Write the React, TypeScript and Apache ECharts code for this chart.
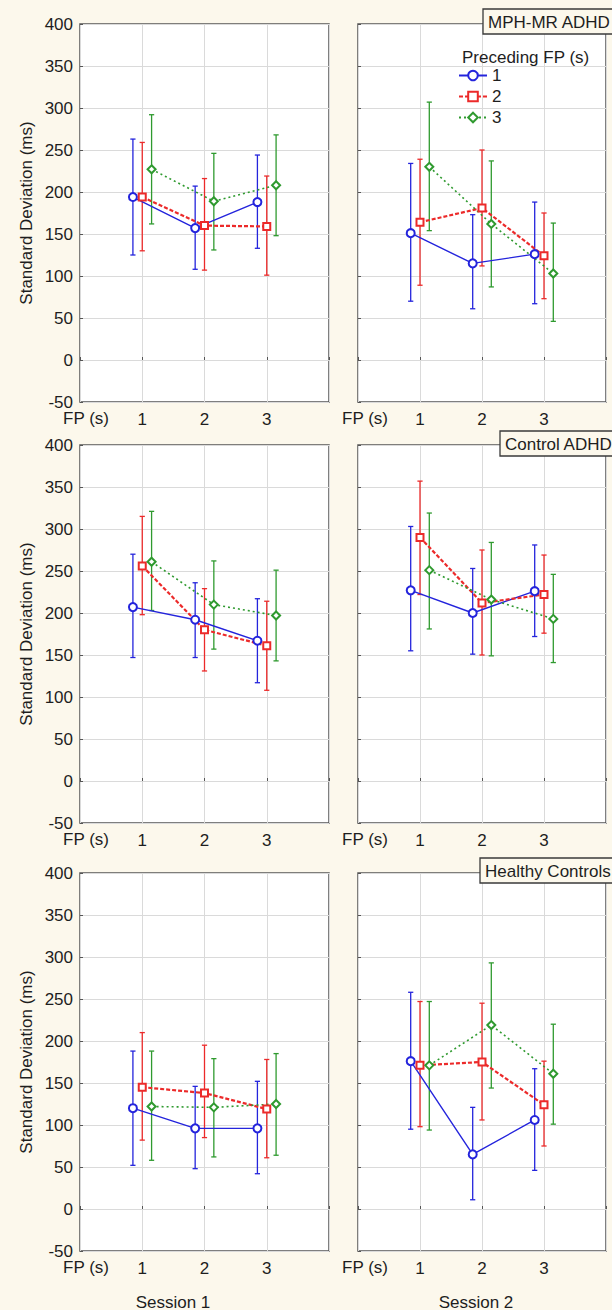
import React, { useEffect, useRef } from 'react';
import * as echarts from 'echarts';

// ---------- data ----------
const fpLevels = [1, 2, 3];
const precedingFp = ['1', '2', '3'];
const sessionLabels = ['Session 1', 'Session 2'];
const groupLabels = ['MPH-MR ADHD', 'Control ADHD', 'Healthy Controls'];
const yMin = -50;
const yMax = 400;
const yStep = 50;

// each array: [preceding FP 1, preceding FP 2, preceding FP 3] x [FP 1, FP 2, FP 3]
const mphS1Mean = [[194, 157, 188], [194, 160, 159], [227, 189, 208]];
const mphS1Hi = [[263, 207, 244], [259, 216, 219], [292, 246, 268]];
const mphS1Lo = [[125, 108, 133], [130, 107, 101], [162, 131, 148]];

const mphS2Mean = [[151, 115, 126], [164, 181, 124], [230, 162, 103]];
const mphS2Hi = [[234, 173, 188], [239, 250, 175], [307, 237, 163]];
const mphS2Lo = [[70, 61, 67], [89, 112, 73], [154, 87, 46]];

const ctlS1Mean = [[207, 192, 167], [256, 180, 161], [261, 210, 197]];
const ctlS1Hi = [[270, 236, 217], [315, 229, 214], [321, 262, 251]];
const ctlS1Lo = [[147, 147, 117], [198, 131, 108], [203, 157, 143]];

const ctlS2Mean = [[227, 200, 226], [290, 212, 222], [251, 216, 193]];
const ctlS2Hi = [[303, 253, 281], [357, 275, 269], [319, 284, 246]];
const ctlS2Lo = [[155, 151, 172], [222, 150, 176], [181, 149, 141]];

const hcS1Mean = [[120, 96, 96], [145, 138, 119], [122, 121, 125]];
const hcS1Hi = [[188, 146, 152], [210, 195, 178], [188, 179, 185]];
const hcS1Lo = [[52, 48, 42], [82, 85, 61], [58, 62, 64]];

const hcS2Mean = [[176, 65, 106], [171, 175, 124], [171, 219, 161]];
const hcS2Hi = [[258, 121, 167], [247, 245, 176], [247, 293, 220]];
const hcS2Lo = [[95, 11, 46], [98, 106, 75], [94, 144, 101]];

const panels = [
  { row: 0, col: 0, mean: mphS1Mean, hi: mphS1Hi, lo: mphS1Lo },
  { row: 0, col: 1, mean: mphS2Mean, hi: mphS2Hi, lo: mphS2Lo },
  { row: 1, col: 0, mean: ctlS1Mean, hi: ctlS1Hi, lo: ctlS1Lo },
  { row: 1, col: 1, mean: ctlS2Mean, hi: ctlS2Hi, lo: ctlS2Lo },
  { row: 2, col: 0, mean: hcS1Mean, hi: hcS1Hi, lo: hcS1Lo },
  { row: 2, col: 1, mean: hcS2Mean, hi: hcS2Hi, lo: hcS2Lo },
];

// ---------- style ----------
const FONT = '"Liberation Sans", Arial, sans-serif';
const BG = '#fcf8ec';
const TXT = '#1e1e1e';
const colors = ['#2424dc', '#ec2a2a', '#2f9a2f'];
const offsets = [-0.15, 0, 0.15];
const symbols = ['emptyCircle', 'emptyRect', 'emptyDiamond'];
const symbolSizes = [8, 7, 8];
const lineStyles: any[] = [
  { width: 1.4, type: 'solid' },
  { width: 2.2, type: [4, 2] },
  { width: 1.6, type: [2, 3] },
];
const gridTops = [24, 445, 873];
const gridHeight = 378;
const gridLefts = [80, 358];
const gridWidths = [249, 248];
const titleBoxes = [
  { x: 483, y: 9 },
  { x: 500, y: 431 },
  { x: 480, y: 858 },
];

export default function App() {
  const ref = useRef<HTMLDivElement>(null);

  useEffect(() => {
    if (!ref.current) return;
    const chart = echarts.init(ref.current, undefined, { renderer: 'svg' });

    const grids: any[] = [];
    const xAxes: any[] = [];
    const yAxes: any[] = [];
    const series: any[] = [];
    const graphics: any[] = [];

    panels.forEach((p, i) => {
      grids.push({
        left: gridLefts[p.col],
        top: gridTops[p.row],
        width: gridWidths[p.col],
        height: gridHeight,
        show: true,
        backgroundColor: '#ffffff',
        borderColor: '#555555',
        borderWidth: 1.5,
      });
      xAxes.push({
        gridIndex: i,
        type: 'value',
        min: 0,
        max: 4,
        interval: 1,
        axisLine: { show: false },
        axisTick: { show: true, inside: true, length: 3, lineStyle: { color: '#555' } },
        splitLine: { show: true, lineStyle: { color: '#dadada', width: 1 } },
        axisLabel: {
          fontSize: 17,
          fontFamily: FONT,
          color: TXT,
          margin: 9,
          formatter: (v: number) => (fpLevels.indexOf(v) >= 0 ? String(v) : ''),
        },
      });
      yAxes.push({
        gridIndex: i,
        type: 'value',
        min: yMin,
        max: yMax,
        interval: yStep,
        axisLine: { show: false },
        axisTick: { show: true, inside: true, length: 3, lineStyle: { color: '#555' } },
        splitLine: { show: true, lineStyle: { color: '#dadada', width: 1 } },
        axisLabel: {
          show: p.col === 0,
          fontSize: 17,
          fontFamily: FONT,
          color: TXT,
          margin: 7,
        },
        name: p.col === 0 ? 'Standard Deviation (ms)' : '',
        nameLocation: 'middle',
        nameGap: 45,
        nameRotate: 90,
        nameTextStyle: { fontSize: 17, fontFamily: FONT, color: TXT },
      });

      for (let s = 0; s < 3; s++) {
        const color = colors[s];
        series.push({
          type: 'custom',
          name: 'err' + s,
          xAxisIndex: i,
          yAxisIndex: i,
          z: 2,
          encode: { x: 0, y: [1, 2] },
          data: fpLevels.map((fp, k) => [fp + offsets[s], p.lo[s][k], p.hi[s][k]]),
          renderItem: (params: any, api: any) => {
            const x = api.value(0);
            const top = api.coord([x, api.value(2)]);
            const bot = api.coord([x, api.value(1)]);
            const w = 2.6;
            const style = { stroke: color, lineWidth: 1.3 };
            return {
              type: 'group',
              children: [
                { type: 'line', shape: { x1: top[0], y1: top[1], x2: bot[0], y2: bot[1] }, style },
                { type: 'line', shape: { x1: top[0] - w, y1: top[1], x2: top[0] + w, y2: top[1] }, style },
                { type: 'line', shape: { x1: bot[0] - w, y1: bot[1], x2: bot[0] + w, y2: bot[1] }, style },
              ],
            };
          },
        });
        series.push({
          type: 'line',
          name: precedingFp[s],
          xAxisIndex: i,
          yAxisIndex: i,
          z: 3,
          symbol: symbols[s],
          symbolSize: symbolSizes[s],
          itemStyle: { color, borderWidth: 1.3 },
          lineStyle: { color, ...lineStyles[s] },
          data: fpLevels.map((fp, k) => [fp + offsets[s], p.mean[s][k]]),
        });
      }

      // "FP (s)" axis caption
      graphics.push({
        type: 'text',
        left: gridLefts[p.col] - (p.col === 0 ? 17 : 16),
        top: gridTops[p.row] + gridHeight + 8,
        style: { text: 'FP (s)', fontSize: 17, fontFamily: FONT, fill: TXT },
      });
    });

    // title boxes
    titleBoxes.forEach((b, r) => {
      graphics.push({
        type: 'rect',
        z: 100,
        zlevel: 0,
        shape: { x: b.x, y: b.y, width: 160, height: 25 },
        style: { fill: BG, stroke: '#3a3a3a', lineWidth: 1.3 },
      });
      graphics.push({
        type: 'text',
        z: 101,
        x: b.x + 5,
        y: b.y + 13,
        style: {
          text: groupLabels[r],
          fontSize: 17,
          fontFamily: FONT,
          fill: TXT,
          verticalAlign: 'middle',
        },
      });
    });

    // session labels
    sessionLabels.forEach((t, c) => {
      graphics.push({
        type: 'text',
        x: [173, 476][c],
        y: 1302,
        style: {
          text: t,
          fontSize: 17,
          fontFamily: FONT,
          fill: TXT,
          align: 'center',
          verticalAlign: 'middle',
        },
      });
    });

    // legend title
    graphics.push({
      type: 'text',
      x: 462,
      y: 57,
      z: 100,
      style: {
        text: 'Preceding FP (s)',
        fontSize: 17,
        fontFamily: FONT,
        fill: TXT,
        verticalAlign: 'middle',
      },
    });

    chart.setOption({
      animation: false,
      backgroundColor: BG,
      grid: grids,
      xAxis: xAxes,
      yAxis: yAxes,
      series,
      graphic: graphics,
      legend: {
        data: precedingFp,
        orient: 'vertical',
        left: 458,
        top: 67,
        itemWidth: 28,
        itemHeight: 12,
        itemGap: 4,
        selectedMode: false,
        textStyle: { fontSize: 17, fontFamily: FONT, color: TXT, padding: [0, 0, 0, 0] },
        padding: 0,
      },
    });

    return () => chart.dispose();
  }, []);

  return (
    <div
      ref={ref}
      style={{ position: 'absolute', left: 0, top: 0, width: 612, height: 1310 }}
    />
  );
}
